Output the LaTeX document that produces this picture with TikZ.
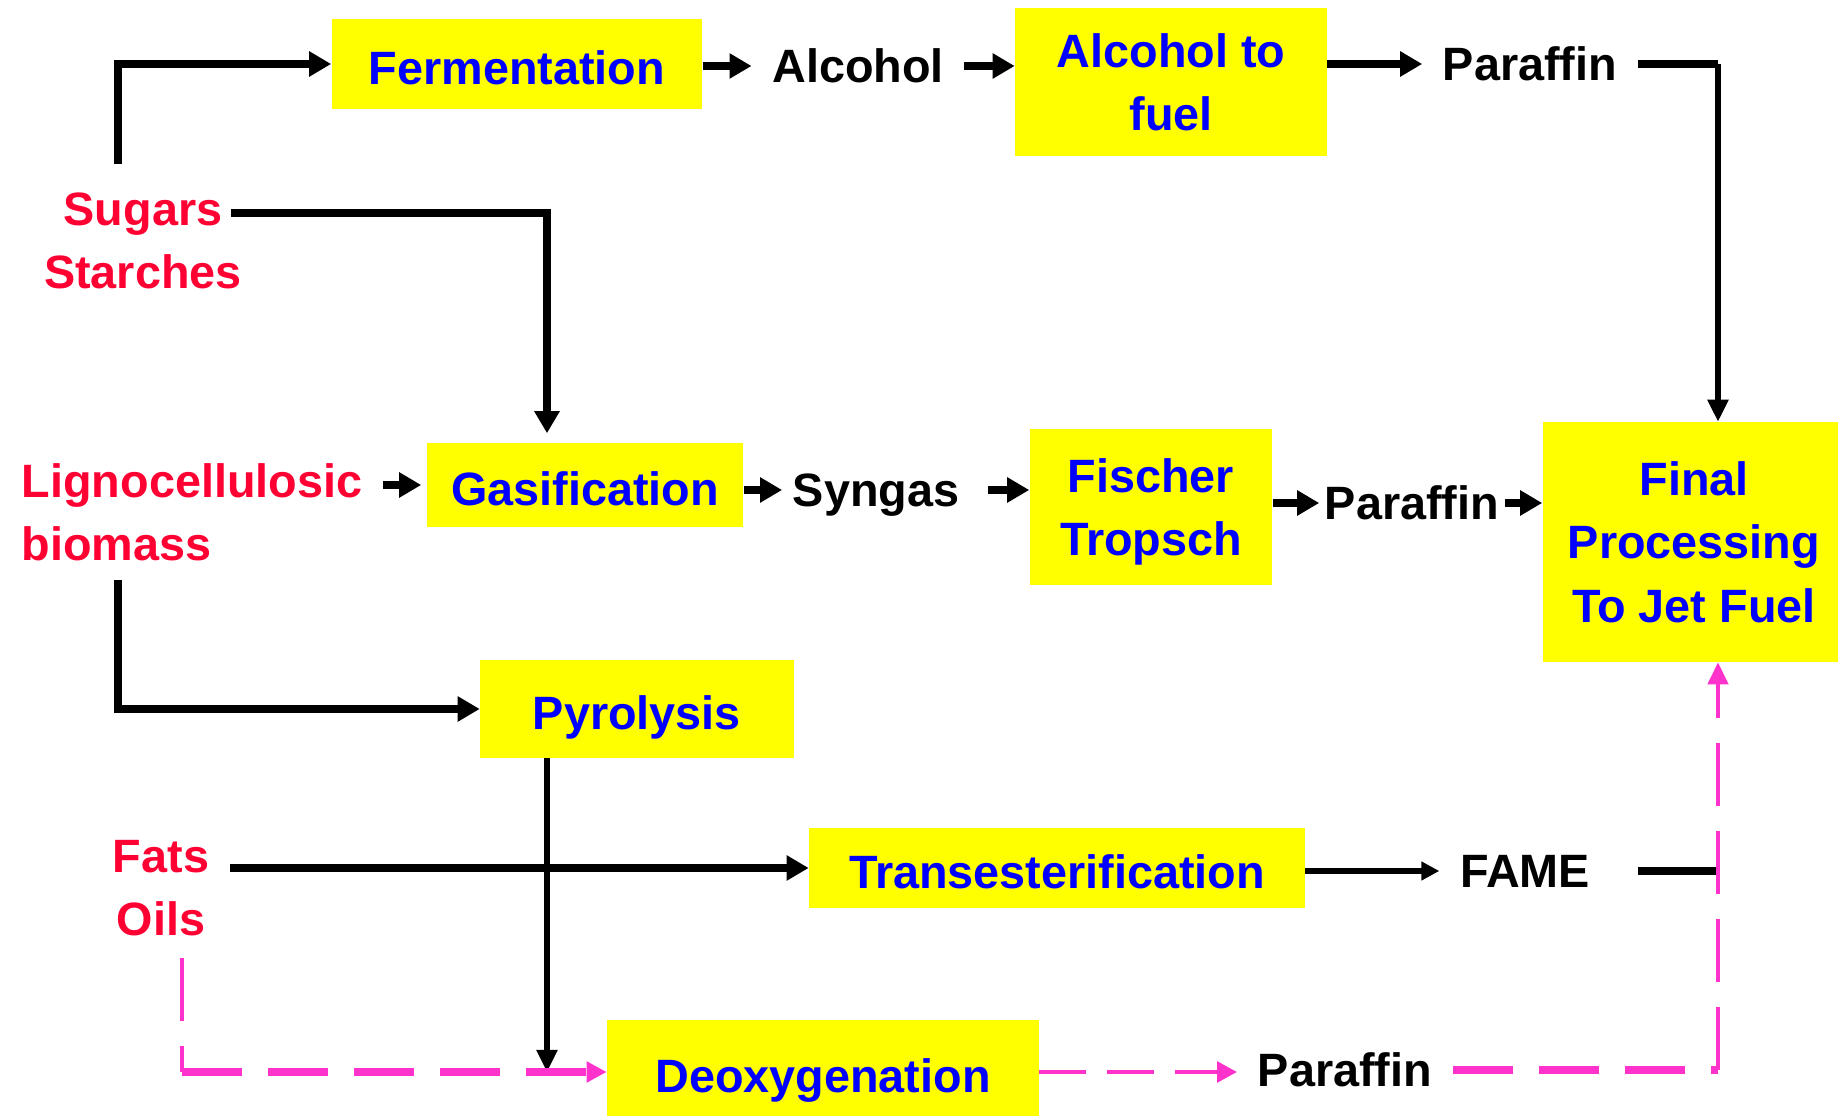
\documentclass[tikz,border=0pt]{standalone}
\usepackage{fontspec}
\setmainfont{Liberation Sans}
\usetikzlibrary{arrows.meta}

\definecolor{boxyellow}{HTML}{FFFF00}
\definecolor{procblue}{HTML}{0000FF}
\definecolor{feedred}{HTML}{FF0033}
\definecolor{biopink}{HTML}{FF33CC}

\begin{document}
\begin{tikzpicture}[x=0.01cm, y=-0.01cm,
    font=\fontsize{13.3}{18}\selectfont\bfseries,
    >={Triangle[length=0.22cm,width=0.24cm]},
    proc/.style={fill=boxyellow, text=procblue, align=center, inner sep=0pt},
    oneline/.style={text height=0.44cm, text depth=0.03cm},
    feed/.style={text=feedred, align=center, inner sep=0.2cm},
    prod/.style={inner sep=0.2cm},
    flow/.style={->, line width=2.1pt},
    slimflow/.style={->, line width=1.5pt, >={Triangle[length=0.22cm,width=0.2cm]}},
    bio/.style={draw=biopink, line width=2pt, dash pattern=on 0.6cm off 0.26cm,
      >={Triangle[length=0.2cm,width=0.2cm]}},
    biomid/.style={draw=biopink, line width=1.4pt, dash pattern=on 0.47cm off 0.21cm,
      >={Triangle[length=0.2cm,width=0.2cm]}},
    biothin/.style={draw=biopink, line width=1.2pt, dash pattern=on 0.63cm off 0.25cm,
      >={Triangle[length=0.22cm,width=0.2cm]}}]

  \useasboundingbox (0,0) rectangle (1838,1116);

  % feedstocks
  \node[feed] (sug) at (143,241) {Sugars\\Starches};
  \node[feed, anchor=west, align=left] (lig) at (1,512) {Lignocellulosic\\biomass};
  \node[feed] (fat) at (161,888) {Fats\\Oils};

  % process boxes
  \node[proc, oneline, minimum width=3.7cm, minimum height=0.9cm] (ferm) at (517,64) {Fermentation};
  \node[proc, minimum width=3.11cm, minimum height=1.47cm] (atf) at (1171,82) {Alcohol to\\fuel};
  \node[proc, oneline, minimum width=3.16cm, minimum height=0.84cm] (gas) at (585,485) {Gasification};
  \node[proc, text depth=0pt, minimum width=2.42cm, minimum height=1.55cm] (ft) at (1151,507) {Fischer\\Tropsch};
  \node[proc, minimum width=3.02cm, minimum height=2.39cm] (fin) at (1694,542) {Final\\Processing\\To Jet Fuel};
  \node[proc, oneline, minimum width=3.13cm, minimum height=0.97cm] (pyr) at (637,709) {Pyrolysis};
  \node[proc, oneline, minimum width=4.95cm, minimum height=0.8cm] (tra) at (1057,868) {Transesterification};
  \node[proc, oneline, minimum width=4.31cm, minimum height=1.04cm] (deo) at (823,1072) {Deoxygenation};

  % intermediates
  \node[prod] (alc) at (858,66) {Alcohol};
  \node[prod] (par1) at (1530,64) {Paraffin};
  \node[prod, inner sep=0.1cm, text depth=0pt] (syn) at (876,490) {Syngas};
  \node[prod, inner sep=0.05cm] (par2) at (1412,503) {Paraffin};
  \node[prod] (fame) at (1525,871) {FAME};
  \node[prod] (par3) at (1345,1070) {Paraffin};

  \coordinate (sugtop) at (118,164);
  \coordinate (sugmid) at (231,213);
  \coordinate (ligbot) at (118,580);
  \coordinate (fatbot) at (182,958);
  \coordinate (mid) at (547,0);
  \coordinate (rim) at (1718,0);

  % alcohol route
  \draw[flow] (sugtop) |- (ferm.west);
  \draw[flow] (ferm.east |- alc) -- (alc);
  \draw[flow] (alc) -- (alc -| atf.west);
  \draw[flow] (atf.east |- par1) -- (par1);
  \draw[line width=2.1pt] (par1) -- (par1 -| rim);
  \draw[slimflow] (par1 -| rim) -- (rim |- fin.north);

  % gasification route
  \draw[flow, shorten >=0.09cm] (sugmid) -| (mid |- gas.north);
  \draw[flow, shorten >=0.05cm] (lig.east |- gas.west) -- (gas.west);
  \draw[flow] (gas.east |- syn) -- (syn);
  \draw[flow, shorten <=0.18cm] (syn) -- (syn -| ft.west);
  \draw[flow] (ft.east |- par2) -- (par2);
  \draw[flow] (par2) -- (par2 -| fin.west);

  % pyrolysis and oils
  \draw[flow] (ligbot) |- (pyr.west);
  \draw[slimflow] (mid |- pyr.south) -- (mid |- deo.west);
  \draw[flow] (fat.east |- tra.west) -- (tra.west);
  \draw[slimflow, >={Triangle[length=0.18cm,width=0.18cm]}] (tra.east |- fame) -- (fame);
  \draw[line width=2.1pt, shorten <=0.27cm] (fame) -- (fame -| rim);

  % deoxygenation
  \draw[biothin] (fatbot) -- (fatbot |- deo.west);
  \draw[bio, ->, biopink] (fatbot |- deo.west) -- (deo.west);
  \draw[biomid, ->, biopink] (deo) -- (deo -| par3.west);
  \draw[bio] (par3) -- (par3 -| rim);
  \draw[biothin, ->, biopink] (par3 -| rim) -- (rim |- fin.south);
\end{tikzpicture}
\end{document}
